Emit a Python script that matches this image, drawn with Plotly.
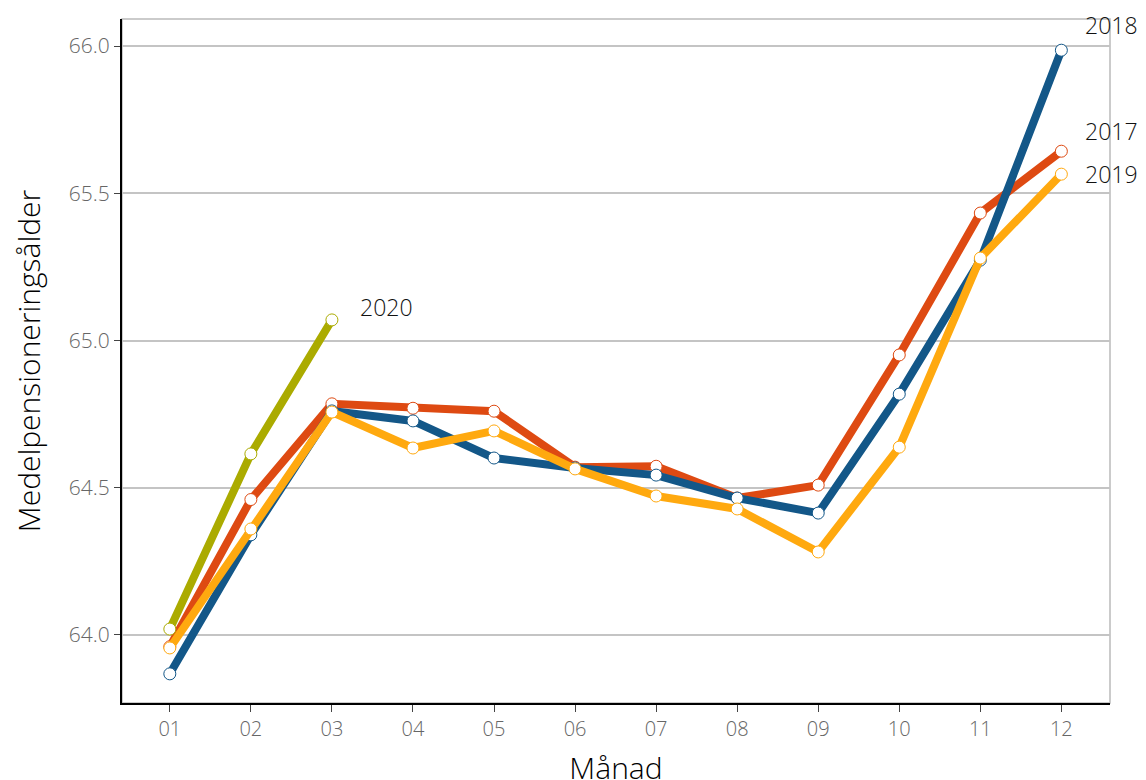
import plotly.graph_objects as go

months = ["01", "02", "03", "04", "05", "06", "07", "08", "09", "10", "11", "12"]
y2017 = [63.96, 64.46, 64.785, 64.77, 64.76, 64.57, 64.573, 64.465, 64.509, 64.951, 65.433, 65.643]
y2018 = [63.868, 64.34, 64.761, 64.727, 64.601, 64.567, 64.543, 64.465, 64.414, 64.818, 65.273, 65.986]
y2019 = [63.956, 64.36, 64.757, 64.635, 64.693, 64.564, 64.472, 64.428, 64.282, 64.638, 65.28, 65.565]
y2020 = [64.02, 64.615, 65.07]

series = [
    ("2017", y2017, "#DE4A12", 20, 22),
    ("2018", y2018, "#135788", 25, 22),
    ("2019", y2019, "#FFA90F", 0, 22),
    ("2020", y2020, "#ABAB00", 13, 26),
]

fig = go.Figure()
for name, ys, color, ysh, xsh in series:
    xs = months[:len(ys)]
    fig.add_trace(go.Scatter(
        x=xs, y=ys, mode="lines+markers", name=name,
        line=dict(color=color, width=8),
        marker=dict(symbol="circle", size=12, color="white", line=dict(color=color, width=1)),
        cliponaxis=False,
    ))
    fig.add_annotation(x=len(ys) - 1, y=ys[-1], text=name, showarrow=False,
                       xanchor="left", yanchor="middle", xshift=xsh, yshift=ysh,
                       font=dict(size=23, color="#111", family="Open Sans", weight=300))

fig.add_shape(type="rect", xref="paper", yref="paper", x0=0, y0=0, x1=1, y1=1,
              line=dict(color="#bbbbbb", width=1.5), layer="below")

fig.update_layout(
    width=1146, height=780,
    margin=dict(l=114, r=44, t=11, b=85),
    plot_bgcolor="white", paper_bgcolor="white",
    showlegend=False,
    font=dict(family="Open Sans"),
    xaxis=dict(
        type="category", range=[-0.59, 11.6],
        showgrid=False, showline=True, linecolor="black", linewidth=2,
        ticks="outside", ticklen=7, tickcolor="#444", tickwidth=1,
        tickfont=dict(size=20, color="#666", family="Open Sans", weight=300),
        title=dict(text="Månad", font=dict(size=30, color="black", weight=300), standoff=28),
        zeroline=False, automargin=False,
    ),
    yaxis=dict(
        range=[63.769, 66.092],
        tickvals=[64.0, 64.5, 65.0, 65.5, 66.0],
        ticktext=["64.0", "64.5", "65.0", "65.5", "66.0"],
        showgrid=True, gridcolor="#c4c4c4", gridwidth=1.5,
        showline=True, linecolor="black", linewidth=2,
        ticks="outside", ticklen=6, tickcolor="#444", tickwidth=1,
        tickfont=dict(size=21, color="#666", family="Open Sans", weight=300),
        title=dict(text="Medelpensioneringsålder", font=dict(size=30, color="black", weight=300), standoff=20),
        zeroline=False, automargin=False,
    ),
)

fig.write_html("out.html")
